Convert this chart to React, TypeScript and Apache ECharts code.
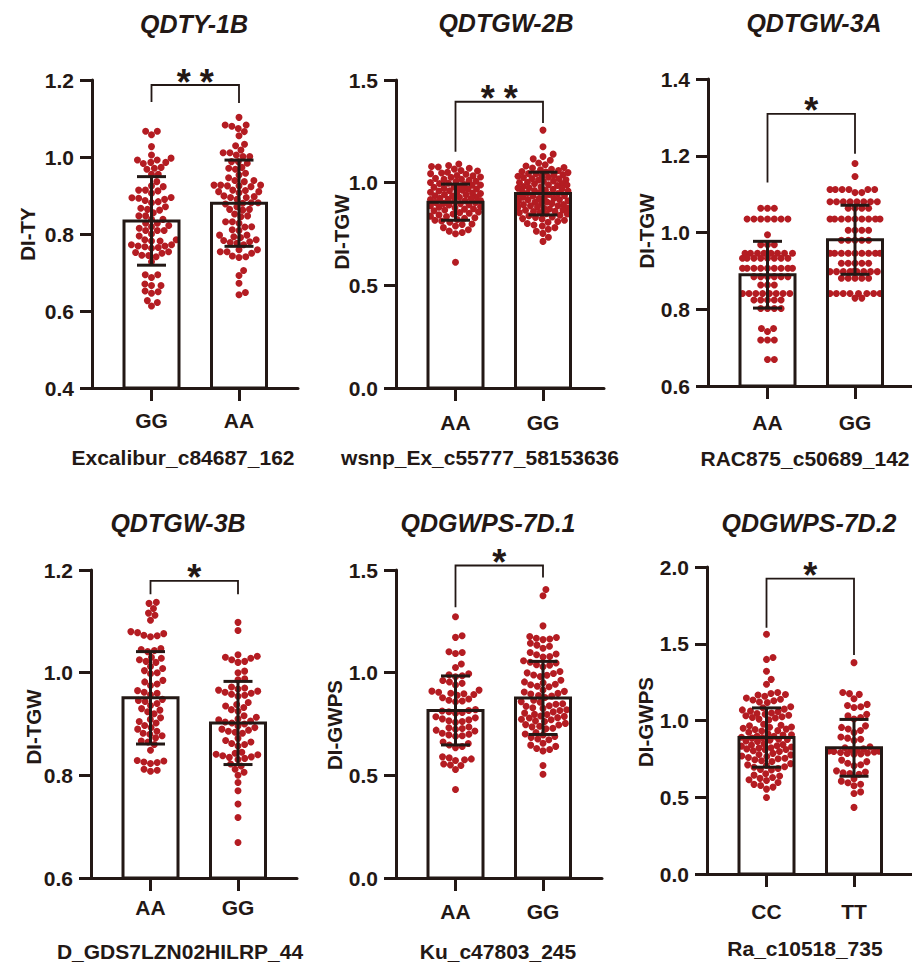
import React, { useEffect, useRef } from "react";
import * as echarts from "echarts";

const INK = "#231815";
const DOT = "#b41c22";
const FONT = "'Liberation Sans', Arial, Helvetica, sans-serif";

// ---------- data ----------
const panelTitles = ["QDTY-1B", "QDTGW-2B", "QDTGW-3A", "QDTGW-3B", "QDGWPS-7D.1", "QDGWPS-7D.2"];
const markerNames = [
  "Excalibur_c84687_162",
  "wsnp_Ex_c55777_58153636",
  "RAC875_c50689_142",
  "D_GDS7LZN02HILRP_44",
  "Ku_c47803_245",
  "Ra_c10518_735",
];
const genotypes = [["GG", "AA"], ["AA", "GG"], ["AA", "GG"], ["AA", "GG"], ["AA", "GG"], ["CC", "TT"]];
const yAxisNames = ["DI-TY", "DI-TGW", "DI-TGW", "DI-TGW", "DI-GWPS", "DI-GWPS"];
const yMins = [0.4, 0, 0.6, 0.6, 0, 0];
const yMaxs = [1.2, 1.5, 1.4, 1.2, 1.5, 2.0];
const yIntervals = [0.2, 0.5, 0.2, 0.2, 0.5, 0.5];
const groupMeans = [[0.834, 0.88], [0.905, 0.947], [0.89, 0.981], [0.951, 0.902], [0.816, 0.877], [0.889, 0.822]];
const groupSDs = [[0.115, 0.112], [0.088, 0.104], [0.087, 0.09], [0.09, 0.081], [0.168, 0.178], [0.193, 0.185]];
const significance = ["**", "**", "*", "*", "*", "*"];
const bracketTops = [1.187, 1.394, 1.309, 1.179, 1.522, 1.924];
const bracketLegEnds = [[1.143, 1.14], [1.151, 1.29], [1.13, 1.205], [1.153, 1.153], [1.318, 1.464], [1.605, 1.427]];

const p1GG = [1.067, 1.058, 1.067, 1.027, 1.005, 0.997, 0.986, 0.986, 0.992, 0.992, 0.983, 0.968, 0.971, 0.973, 0.955, 0.955, 0.936, 0.925, 0.923, 0.912, 0.914, 0.914, 0.906, 0.893, 0.895, 0.89, 0.887, 0.894, 0.881, 0.884, 0.871, 0.864, 0.862, 0.867, 0.855, 0.847, 0.838, 0.838, 0.847, 0.822, 0.819, 0.815, 0.828, 0.828, 0.8, 0.809, 0.809, 0.809, 0.795, 0.782, 0.772, 0.769, 0.769, 0.785, 0.785, 0.782, 0.772, 0.754, 0.75, 0.752, 0.763, 0.765, 0.767, 0.744, 0.741, 0.745, 0.728, 0.687, 0.694, 0.694, 0.666, 0.67, 0.666, 0.646, 0.652, 0.65, 0.613, 0.622, 0.627];
const p1AA = [1.103, 1.074, 1.08, 1.083, 1.083, 1.055, 1.066, 1.029, 1.033, 1.018, 1.011, 1.011, 1.001, 1.005, 1.001, 0.988, 0.988, 0.984, 0.971, 0.973, 0.968, 0.953, 0.958, 0.946, 0.939, 0.939, 0.936, 0.927, 0.925, 0.923, 0.925, 0.914, 0.927, 0.927, 0.91, 0.907, 0.913, 0.91, 0.895, 0.89, 0.899, 0.895, 0.897, 0.881, 0.878, 0.871, 0.881, 0.88, 0.864, 0.862, 0.864, 0.852, 0.845, 0.847, 0.832, 0.832, 0.828, 0.809, 0.818, 0.811, 0.819, 0.797, 0.793, 0.797, 0.791, 0.778, 0.785, 0.783, 0.776, 0.78, 0.772, 0.754, 0.759, 0.754, 0.759, 0.741, 0.739, 0.743, 0.75, 0.692, 0.705, 0.672, 0.642, 0.648];
const p2AA = [1.091, 1.084, 1.079, 1.076, 1.07, 1.066, 1.059, 1.057, 1.051, 1.047, 1.044, 1.041, 1.035, 1.033, 1.028, 1.026, 1.021, 1.017, 1.016, 1.011, 1.007, 1.006, 1.001, 0.997, 0.996, 0.991, 0.989, 0.987, 0.981, 0.979, 0.978, 0.973, 0.969, 0.968, 0.963, 0.961, 0.959, 0.954, 0.953, 0.949, 0.947, 0.942, 0.941, 0.936, 0.935, 0.93, 0.929, 0.924, 0.923, 0.919, 0.918, 0.913, 0.912, 0.909, 0.904, 0.903, 0.899, 0.898, 0.893, 0.891, 0.888, 0.883, 0.881, 0.878, 0.873, 0.871, 0.867, 0.863, 0.857, 0.854, 0.851, 0.847, 0.843, 0.837, 0.835, 0.829, 0.827, 0.821, 0.817, 0.813, 0.807, 0.799, 0.796, 0.789, 0.781, 0.771, 0.764, 0.757, 0.751, 0.612];
const p2GG = [1.256, 1.175, 1.139, 1.127, 1.116, 1.109, 1.096, 1.087, 1.081, 1.074, 1.071, 1.065, 1.063, 1.059, 1.054, 1.052, 1.049, 1.044, 1.043, 1.039, 1.037, 1.032, 1.031, 1.026, 1.025, 1.02, 1.019, 1.014, 1.013, 1.008, 1.007, 1.002, 1.001, 0.996, 0.995, 0.99, 0.989, 0.986, 0.981, 0.98, 0.975, 0.974, 0.969, 0.968, 0.963, 0.962, 0.959, 0.954, 0.953, 0.948, 0.947, 0.942, 0.941, 0.936, 0.935, 0.93, 0.929, 0.924, 0.923, 0.918, 0.917, 0.912, 0.911, 0.906, 0.905, 0.9, 0.899, 0.894, 0.893, 0.888, 0.887, 0.882, 0.881, 0.876, 0.875, 0.872, 0.867, 0.866, 0.861, 0.86, 0.855, 0.854, 0.849, 0.847, 0.841, 0.839, 0.833, 0.831, 0.825, 0.823, 0.817, 0.811, 0.807, 0.801, 0.794, 0.789, 0.781, 0.773, 0.763, 0.753, 0.734, 0.714];
const p3AA = [1.063, 1.063, 1.063, 1.035, 1.035, 1.035, 1.035, 1.035, 1.035, 1.035, 0.994, 0.968, 0.968, 0.968, 0.946, 0.946, 0.946, 0.946, 0.946, 0.946, 0.946, 0.946, 0.933, 0.933, 0.933, 0.933, 0.933, 0.933, 0.933, 0.933, 0.907, 0.907, 0.907, 0.907, 0.907, 0.907, 0.907, 0.907, 0.907, 0.885, 0.885, 0.885, 0.885, 0.885, 0.885, 0.863, 0.863, 0.863, 0.841, 0.841, 0.841, 0.841, 0.841, 0.841, 0.841, 0.841, 0.824, 0.824, 0.824, 0.824, 0.824, 0.802, 0.802, 0.802, 0.802, 0.75, 0.75, 0.742, 0.72, 0.72, 0.72, 0.669, 0.669];
const p3GG = [1.18, 1.146, 1.112, 1.112, 1.112, 1.112, 1.112, 1.112, 1.104, 1.104, 1.08, 1.08, 1.08, 1.08, 1.08, 1.08, 1.08, 1.08, 1.063, 1.063, 1.063, 1.063, 1.035, 1.035, 1.035, 1.035, 1.035, 1.035, 1.035, 1.035, 1.035, 1.006, 1.006, 1.006, 1.006, 0.98, 0.98, 0.98, 0.98, 0.98, 0.946, 0.946, 0.946, 0.946, 0.946, 0.946, 0.946, 0.946, 0.946, 0.92, 0.92, 0.92, 0.92, 0.92, 0.898, 0.898, 0.898, 0.898, 0.898, 0.898, 0.898, 0.898, 0.898, 0.881, 0.881, 0.881, 0.881, 0.881, 0.841, 0.841, 0.841, 0.841, 0.841, 0.841, 0.841, 0.841, 0.829, 0.829];
const p4AA = [1.137, 1.135, 1.125, 1.116, 1.112, 1.102, 1.08, 1.078, 1.076, 1.073, 1.072, 1.07, 1.047, 1.045, 1.043, 1.041, 1.03, 1.028, 1.025, 1.022, 1.02, 1.012, 1.008, 1.004, 1.0, 0.998, 0.985, 0.982, 0.978, 0.975, 0.965, 0.962, 0.96, 0.957, 0.948, 0.946, 0.944, 0.94, 0.936, 0.93, 0.927, 0.924, 0.92, 0.912, 0.909, 0.905, 0.902, 0.897, 0.893, 0.89, 0.886, 0.882, 0.88, 0.877, 0.873, 0.867, 0.865, 0.86, 0.849, 0.829, 0.828, 0.826, 0.825, 0.823, 0.812, 0.81, 0.808];
const p4GG = [1.098, 1.082, 1.035, 1.032, 1.03, 1.028, 1.025, 1.022, 1.02, 1.003, 1.0, 0.988, 0.986, 0.972, 0.97, 0.968, 0.966, 0.964, 0.962, 0.96, 0.958, 0.956, 0.954, 0.942, 0.938, 0.935, 0.932, 0.928, 0.925, 0.916, 0.913, 0.91, 0.908, 0.906, 0.904, 0.902, 0.9, 0.896, 0.893, 0.89, 0.888, 0.886, 0.884, 0.882, 0.872, 0.868, 0.865, 0.862, 0.86, 0.857, 0.845, 0.843, 0.841, 0.84, 0.838, 0.836, 0.835, 0.833, 0.831, 0.822, 0.818, 0.812, 0.806, 0.8, 0.786, 0.77, 0.744, 0.718, 0.669];
const p5AA = [1.272, 1.18, 1.172, 1.102, 1.098, 1.093, 1.042, 1.025, 0.995, 0.99, 0.985, 0.98, 0.962, 0.955, 0.948, 0.94, 0.915, 0.91, 0.905, 0.9, 0.897, 0.894, 0.89, 0.878, 0.872, 0.866, 0.862, 0.858, 0.82, 0.816, 0.813, 0.81, 0.806, 0.802, 0.785, 0.78, 0.775, 0.77, 0.766, 0.762, 0.758, 0.735, 0.732, 0.728, 0.724, 0.72, 0.716, 0.705, 0.7, 0.697, 0.693, 0.69, 0.662, 0.655, 0.648, 0.64, 0.635, 0.59, 0.585, 0.58, 0.576, 0.572, 0.555, 0.55, 0.548, 0.528, 0.431];
const p5GG = [1.405, 1.375, 1.228, 1.176, 1.171, 1.168, 1.164, 1.161, 1.143, 1.134, 1.129, 1.119, 1.098, 1.091, 1.087, 1.079, 1.076, 1.058, 1.051, 1.047, 1.039, 1.036, 1.029, 1.006, 0.999, 0.996, 0.989, 0.987, 0.981, 0.963, 0.955, 0.951, 0.944, 0.941, 0.934, 0.931, 0.916, 0.909, 0.906, 0.899, 0.896, 0.889, 0.886, 0.879, 0.866, 0.859, 0.856, 0.849, 0.846, 0.839, 0.836, 0.829, 0.826, 0.819, 0.816, 0.809, 0.803, 0.797, 0.796, 0.789, 0.787, 0.781, 0.779, 0.773, 0.771, 0.765, 0.762, 0.753, 0.747, 0.745, 0.739, 0.736, 0.729, 0.727, 0.709, 0.701, 0.697, 0.689, 0.685, 0.677, 0.673, 0.656, 0.647, 0.641, 0.631, 0.626, 0.619, 0.548, 0.505];
const p6CC = [1.562, 1.411, 1.398, 1.321, 1.268, 1.236, 1.182, 1.176, 1.169, 1.166, 1.158, 1.146, 1.139, 1.134, 1.129, 1.121, 1.117, 1.089, 1.083, 1.074, 1.069, 1.061, 1.057, 1.049, 1.046, 1.041, 1.034, 1.031, 1.024, 1.019, 1.016, 1.009, 1.004, 0.976, 0.969, 0.966, 0.958, 0.956, 0.949, 0.944, 0.941, 0.934, 0.931, 0.924, 0.913, 0.907, 0.905, 0.898, 0.897, 0.891, 0.887, 0.885, 0.878, 0.877, 0.871, 0.866, 0.863, 0.849, 0.843, 0.841, 0.835, 0.833, 0.827, 0.823, 0.821, 0.815, 0.811, 0.809, 0.803, 0.798, 0.786, 0.779, 0.776, 0.769, 0.766, 0.759, 0.754, 0.751, 0.744, 0.738, 0.733, 0.719, 0.711, 0.707, 0.699, 0.695, 0.687, 0.681, 0.677, 0.653, 0.644, 0.639, 0.629, 0.623, 0.614, 0.609, 0.596, 0.584, 0.576, 0.566, 0.553, 0.498];
const p6TT = [1.377, 1.182, 1.175, 1.17, 1.142, 1.105, 1.098, 1.09, 1.085, 1.04, 1.03, 1.02, 1.01, 0.965, 0.955, 0.945, 0.935, 0.922, 0.892, 0.885, 0.878, 0.87, 0.828, 0.822, 0.815, 0.81, 0.806, 0.802, 0.8, 0.798, 0.795, 0.792, 0.788, 0.785, 0.782, 0.78, 0.742, 0.732, 0.722, 0.712, 0.705, 0.672, 0.665, 0.66, 0.655, 0.65, 0.62, 0.605, 0.595, 0.585, 0.575, 0.535, 0.525, 0.434];

const dotGroups = [[p1GG, p1AA], [p2AA, p2GG], [p3AA, p3GG], [p4AA, p4GG], [p5AA, p5GG], [p6CC, p6TT]];

// ---------- layout ----------
const grids = [
  { left: 92, top: 80, width: 206, height: 308 },
  { left: 396, top: 80, width: 208, height: 308 },
  { left: 708, top: 79, width: 204, height: 307 },
  { left: 91, top: 570, width: 206, height: 308 },
  { left: 396, top: 570, width: 206, height: 308 },
  { left: 707, top: 567, width: 205, height: 307 },
];
const titlePos = [[194, 24], [506, 23], [814, 23], [178, 523], [488, 523], [809, 523]];
const yNamePos = [[27, 234], [341, 232], [646, 231], [33, 727], [334, 725], [645, 722]];
const markerPos = [[183, 457], [480, 457], [805, 458], [180, 951], [498, 951], [805, 948]];
const xLabelMargins = [21.5, 23.5, 25.5, 19, 22.5, 26.5];
const X_UNIT = 87.5; // px between the two category centres
const X_LEFT = 59.5; // px from y axis to first centre
const BAR_HALF = 27.5;
const CAP_HALF = 14.5;
const DOT_SIZE = 7;
const DOT_GAP = 6.8;
const SWARM_HALF = 25;

function swarm(values: number[], pxPerUnit: number, d: number, maxHalf: number): number[] {
  const order = values.map((_, i) => i).sort((a, b) => values[a] - values[b]);
  const placed: { x: number; y: number }[] = [];
  const out = new Array(values.length).fill(0);
  for (const i of order) {
    const y = values[i] * pxPerUnit;
    const near = placed.filter((p) => Math.abs(p.y - y) < d);
    const cands = [0];
    for (const p of near) {
      const dx = Math.sqrt(d * d - (p.y - y) * (p.y - y));
      cands.push(p.x + dx, p.x - dx);
    }
    const ok = cands.filter((c) => Math.abs(c) <= maxHalf).sort((a, b) => Math.abs(a) - Math.abs(b));
    let chosen: number | null = null;
    for (const c of ok) {
      if (near.every((p) => (p.x - c) ** 2 + (p.y - y) ** 2 >= d * d - 1e-6)) {
        chosen = c;
        break;
      }
    }
    if (chosen === null) {
      // no free spot inside the band: take the least crowded position
      let best = 0;
      let bestScore = -Infinity;
      for (let x = -maxHalf; x <= maxHalf + 1e-9; x += 0.5) {
        let m = Infinity;
        for (const p of near) m = Math.min(m, (p.x - x) ** 2 + (p.y - y) ** 2);
        const score = m - Math.abs(x) * 0.01;
        if (score > bestScore) {
          bestScore = score;
          best = x;
        }
      }
      chosen = best;
    }
    placed.push({ x: chosen, y });
    out[i] = chosen;
  }
  return out;
}

function buildOption() {
  const option: any = { animation: false, backgroundColor: "#fff", grid: [], xAxis: [], yAxis: [], series: [], graphic: [] };
  for (let i = 0; i < 6; i++) {
    const g = grids[i];
    const yMin = yMins[i];
    option.grid.push({ left: g.left, top: g.top, width: g.width, height: g.height, containLabel: false, outerBoundsMode: "none" });
    option.xAxis.push({
      type: "value",
      gridIndex: i,
      min: -X_LEFT / X_UNIT,
      max: g.width / X_UNIT - X_LEFT / X_UNIT,
      axisLine: { show: true, onZero: false, lineStyle: { color: INK, width: 3 } },
      axisTick: { show: true, length: 13, customValues: [0, 1], lineStyle: { color: INK, width: 3 } },
      axisLabel: {
        show: true,
        customValues: [0, 1],
        margin: xLabelMargins[i],
        formatter: (v: number) => genotypes[i][Math.round(v)] ?? "",
        fontSize: 21,
        fontWeight: "bold",
        color: INK,
        fontFamily: FONT,
      },
      splitLine: { show: false },
    });
    option.yAxis.push({
      type: "value",
      gridIndex: i,
      min: yMin,
      max: yMaxs[i],
      interval: yIntervals[i],
      axisLine: { show: true, onZero: false, lineStyle: { color: INK, width: 3 } },
      axisTick: { show: true, length: 12, lineStyle: { color: INK, width: 3 } },
      axisLabel: {
        margin: 18,
        fontSize: 21,
        fontWeight: "bold",
        color: INK,
        fontFamily: FONT,
        formatter: (v: number) => v.toFixed(1),
      },
      splitLine: { show: false },
    });

    // bar fill
    option.series.push({
      type: "custom",
      xAxisIndex: i,
      yAxisIndex: i,
      z: 1,
      clip: false,
      silent: true,
      encode: { x: 0, y: 1 },
      data: [[0, groupMeans[i][0]], [1, groupMeans[i][1]]],
      renderItem: (_p: any, api: any) => {
        const a = api.coord([api.value(0), api.value(1)]);
        const b = api.coord([api.value(0), yMin]);
        return { type: "rect", shape: { x: a[0] - BAR_HALF, y: a[1], width: BAR_HALF * 2, height: b[1] - a[1] }, style: { fill: "#ffffff" } };
      },
    });

    // dots
    const pxPerUnit = g.height / (yMaxs[i] - yMin);
    for (let k = 0; k < 2; k++) {
      const vals = dotGroups[i][k];
      const offs = swarm(vals, pxPerUnit, DOT_GAP, SWARM_HALF);
      option.series.push({
        type: "scatter",
        xAxisIndex: i,
        yAxisIndex: i,
        z: 2,
        silent: true,
        symbolSize: DOT_SIZE,
        itemStyle: { color: DOT, opacity: 1 },
        data: vals.map((v, j) => [k + offs[j] / X_UNIT, v]),
      });
    }

    // bar outline + error bars
    option.series.push({
      type: "custom",
      xAxisIndex: i,
      yAxisIndex: i,
      z: 3,
      clip: false,
      silent: true,
      encode: { x: 0, y: 1 },
      data: [[0, groupMeans[i][0], groupSDs[i][0]], [1, groupMeans[i][1], groupSDs[i][1]]],
      renderItem: (_p: any, api: any) => {
        const x = api.value(0), m = api.value(1), s = api.value(2);
        const a = api.coord([x, m]);
        const b = api.coord([x, yMin]);
        const t = api.coord([x, m + s]);
        const u = api.coord([x, m - s]);
        const ls = { stroke: INK, lineWidth: 3, fill: "none" };
        return {
          type: "group",
          children: [
            { type: "rect", shape: { x: a[0] - BAR_HALF, y: a[1], width: BAR_HALF * 2, height: b[1] - a[1] }, style: { ...ls } },
            { type: "line", shape: { x1: t[0], y1: t[1], x2: u[0], y2: u[1] }, style: { ...ls } },
            { type: "line", shape: { x1: t[0] - CAP_HALF, y1: t[1], x2: t[0] + CAP_HALF, y2: t[1] }, style: { ...ls } },
            { type: "line", shape: { x1: u[0] - CAP_HALF, y1: u[1], x2: u[0] + CAP_HALF, y2: u[1] }, style: { ...ls } },
          ],
        };
      },
    });

    // significance bracket
    option.series.push({
      type: "custom",
      xAxisIndex: i,
      yAxisIndex: i,
      z: 3,
      clip: false,
      silent: true,
      encode: { x: 0, y: 1 },
      data: [[0.5, bracketTops[i], bracketLegEnds[i][0], bracketLegEnds[i][1]]],
      renderItem: (_p: any, api: any) => {
        const top = api.value(1), l = api.value(2), r = api.value(3);
        const p0 = api.coord([0, l]);
        const p1 = api.coord([0, top]);
        const p2 = api.coord([1, top]);
        const p3 = api.coord([1, r]);
        const mid = api.coord([0.5, top]);
        const stars = significance[i];
        const children: any[] = [
          { type: "polyline", shape: { points: [p0, p1, p2, p3] }, style: { stroke: INK, fill: "none", lineWidth: 1.8 } },
        ];
        for (let k = 0; k < stars.length; k++) {
          const off = (k - (stars.length - 1) / 2) * 23;
          children.push({
            type: "text",
            x: mid[0] + off,
            y: mid[1] - 3,
            style: {
              text: "*",
              font: `bold 36px ${FONT}`,
              fill: INK,
              textAlign: "center",
              textVerticalAlign: "middle",
              align: "center",
              verticalAlign: "middle",
            },
          });
        }
        return { type: "group", children };
      },
    });

    // texts
    option.graphic.push({
      type: "text",
      x: titlePos[i][0],
      y: titlePos[i][1],
      style: { text: panelTitles[i], font: `italic bold 25px ${FONT}`, fill: INK, textAlign: "center", textVerticalAlign: "middle" },
    });
    option.graphic.push({
      type: "text",
      x: yNamePos[i][0],
      y: yNamePos[i][1],
      rotation: Math.PI / 2,
      style: { text: yAxisNames[i], font: `bold 20.5px ${FONT}`, fill: INK, textAlign: "center", textVerticalAlign: "middle" },
    });
    option.graphic.push({
      type: "text",
      x: markerPos[i][0],
      y: markerPos[i][1],
      style: { text: markerNames[i], font: `bold 21px ${FONT}`, fill: INK, textAlign: "center", textVerticalAlign: "middle" },
    });
  }
  return option;
}

export default function App() {
  const ref = useRef<HTMLDivElement>(null);
  useEffect(() => {
    const chart = echarts.init(ref.current as HTMLDivElement, null, { renderer: "svg" });
    chart.setOption(buildOption());
    return () => chart.dispose();
  }, []);
  return <div ref={ref} style={{ position: "absolute", left: 0, top: 0, width: 912, height: 962, background: "#fff" }} />;
}
